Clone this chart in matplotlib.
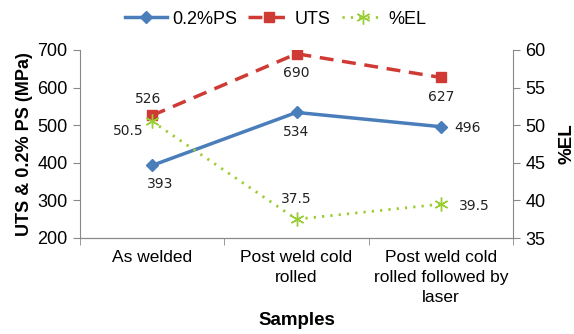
import matplotlib
matplotlib.use("Agg")
import matplotlib.pyplot as plt
from matplotlib.lines import Line2D

categories = ["As welded", "Post weld cold\nrolled", "Post weld cold\nrolled followed by\nlaser"]
ps_values = [393, 534, 496]
uts_values = [526, 690, 627]
el_values = [50.5, 37.5, 39.5]
left_ticks = [200, 300, 400, 500, 600, 700]
right_ticks = [35, 40, 45, 50, 55, 60]

plt.rcParams['font.family'] = ['Liberation Sans', 'DejaVu Sans']

fig = plt.figure(figsize=(5.74, 3.34), dpi=100)
ax = fig.add_axes([80/574, 1-238/334, (513-80)/574, (238-50)/334])
ax2 = ax.twinx()

x = list(range(len(categories)))
blue = "#4a7ebb"
red = "#d03a34"
green = "#9acd32"
star = (6, 2, 0)

ax.plot(x, ps_values, color=blue, lw=2.5, marker="D", ms=6, zorder=3)
ax.plot(x, uts_values, color=red, lw=2.5, ls=(0, (4, 2.5)), marker="s", ms=7.5, zorder=3)
ax2.plot(x, el_values, color=green, lw=2, ls=(0, (0.8, 2.2)), marker=star, ms=10, mew=1, zorder=3)

ax.set_xlim(-0.5, 2.5)
ax.set_ylim(200, 700)
ax2.set_ylim(35, 60)
ax.set_yticks(left_ticks)
ax2.set_yticks(right_ticks)
ax.set_xticks(x)
ax.set_xticklabels(categories, fontsize=12.5, linespacing=1.4)
ax.set_xticks([-0.5, 0.5, 1.5, 2.5], minor=True)
ax.tick_params(axis="x", which="major", length=0, pad=9)
ax.tick_params(axis="x", which="minor", length=5, color="#888888")
ax.tick_params(axis="y", labelsize=13, length=5, color="#888888", pad=4)
ax2.tick_params(axis="y", labelsize=13, length=5, color="#888888", pad=4)

for a in (ax, ax2):
    a.spines["top"].set_visible(False)
    for s in ("left", "right", "bottom"):
        a.spines[s].set_color("#888888")
ax2.spines["left"].set_visible(False)
ax.spines["right"].set_visible(False)

ax.set_ylabel("UTS & 0.2% PS (MPa)", fontsize=13, fontweight="bold", labelpad=3)
ax2.set_ylabel("%EL", fontsize=13.5, fontweight="bold", labelpad=9)
ax.set_xlabel("Samples", fontsize=13.5, fontweight="bold", labelpad=5)

lf = dict(fontsize=10, family=["DejaVu Sans"], color="#222222")
# PS labels
ax.annotate(str(ps_values[0]), (0, ps_values[0]), xytext=(6, -16), textcoords="offset points", ha="center", **lf)
ax.annotate(str(ps_values[1]), (1, ps_values[1]), xytext=(0, -17), textcoords="offset points", ha="center", **lf)
ax.annotate(str(ps_values[2]), (2, ps_values[2]), xytext=(10, -4), textcoords="offset points", ha="left", **lf)
# UTS labels
ax.annotate(str(uts_values[0]), (0, uts_values[0]), xytext=(-3, 9), textcoords="offset points", ha="center", **lf)
ax.annotate(str(uts_values[1]), (1, uts_values[1]), xytext=(0, -17), textcoords="offset points", ha="center", **lf)
ax.annotate(str(uts_values[2]), (2, uts_values[2]), xytext=(0, -17), textcoords="offset points", ha="center", **lf)
# EL labels
ax2.annotate(str(el_values[0]), (0, el_values[0]), xytext=(-17, -10), textcoords="offset points", ha="center", **lf)
ax2.annotate(str(el_values[1]), (1, el_values[1]), xytext=(0, 12), textcoords="offset points", ha="center", **lf)
ax2.annotate(str(el_values[2]), (2, el_values[2]), xytext=(13, -4), textcoords="offset points", ha="left", **lf)

handles = [
    Line2D([], [], color=blue, lw=2.5, marker="D", ms=6),
    Line2D([], [], color=red, lw=2.5, ls=(0, (4, 2.5)), marker="s", ms=7.5),
    Line2D([], [], color=green, lw=2, ls=(0, (0.8, 2.2)), marker=star, ms=10, mew=1),
]
fig.legend(handles, ["0.2%PS", "UTS", "%EL"], loc="center", bbox_to_anchor=(276/574, 1-19/334),
           ncol=3, frameon=False, fontsize=13, handlelength=2.3, columnspacing=0.6, handletextpad=0.3)

fig.savefig("out.png", dpi=100)
